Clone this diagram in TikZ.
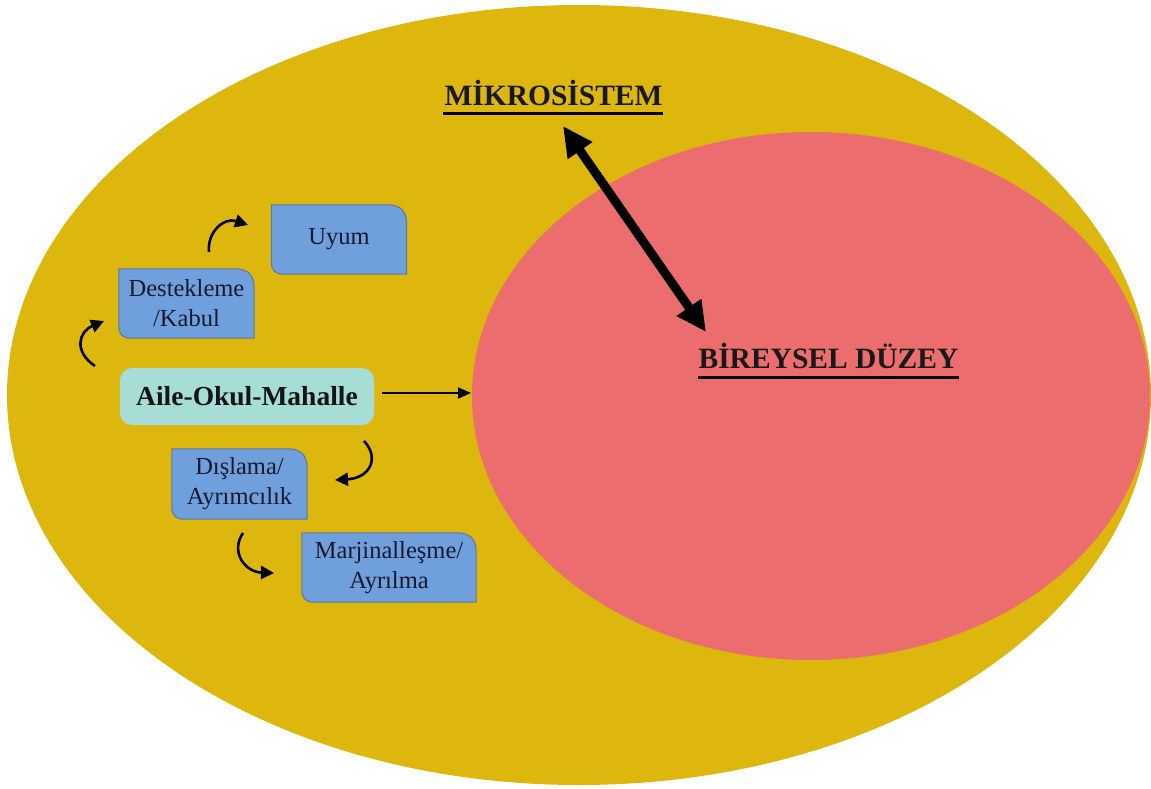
\documentclass[tikz,border=0pt]{standalone}
\usepackage{fontspec}
\setmainfont{Liberation Serif}
\usetikzlibrary{arrows.meta,calc}
\definecolor{outerY}{RGB}{221,183,13}
\definecolor{innerP}{RGB}{235,109,109}
\definecolor{boxB}{RGB}{111,160,221}
\definecolor{boxE}{RGB}{88,120,165}
\definecolor{tealF}{RGB}{166,221,214}
\definecolor{txt}{RGB}{25,25,45}
\pgfdeclarelayer{back}
\pgfdeclarelayer{mid}
\pgfsetlayers{back,mid,main}
\tikzset{
  boxtext/.style={inner sep=0pt, align=center, text=txt, font=\fontsize{24.5}{30}\selectfont},
  boxshape/.style={fill=boxB, draw=boxE, line width=1pt},
  curvarrow/.style={line width=2.6pt, -{Triangle[length=13pt,width=13pt]}},
  ttl/.style={inner sep=0pt, anchor=base, font=\bfseries\fontsize{29.5}{34}\selectfont, text=black!90}
}
\newcommand\mycbox[1]{%
  \begin{pgfonlayer}{mid}
  \draw[boxshape] (#1.north west) -- ($(#1.north east)+(-20,0)$) .. controls ($(#1.north east)+(-6,0)$) and ($(#1.north east)+(0,6)$) .. ($(#1.north east)+(0,20)$)
    -- (#1.south east) -- ($(#1.south west)+(12,0)$) .. controls ($(#1.south west)+(4,0)$) and ($(#1.south west)+(0,-4)$) .. ($(#1.south west)+(0,-12)$) -- cycle;
  \end{pgfonlayer}}
\begin{document}
\begin{tikzpicture}[x=1pt,y=-1pt]
\useasboundingbox (0,0) rectangle (1151,789);
\begin{pgfonlayer}{back}
\fill[outerY] (579,395) ellipse [x radius=572pt, y radius=390pt];
\fill[innerP] (811,396) ellipse [x radius=339pt, y radius=264pt];
\end{pgfonlayer}

% boxes
\node[boxtext, minimum width=135pt, minimum height=69pt] (uyum) at (339,239.5) {Uyum};
\mycbox{uyum}
\node[boxtext, minimum width=135pt, minimum height=69pt] (dest) at (186.5,303.5) {Destekleme\\/Kabul};
\mycbox{dest}
\node[boxtext, minimum width=135pt, minimum height=70pt] (disl) at (239.5,484) {Dışlama/\\Ayrımcılık};
\mycbox{disl}
\node[boxtext, minimum width=174pt, minimum height=69pt] (marj) at (389,567.5) {Marjinalleşme/\\Ayrılma};
\mycbox{marj}
\node[inner sep=0pt, minimum width=254pt, minimum height=57pt, fill=tealF, rounded corners=12pt,
      font=\bfseries\fontsize{27.5}{32}\selectfont, text=black!92] (aile) at (247,396.5) {Aile-Okul-Mahalle};

% titles
\node[ttl] (mikro) at (553.5,106) {MİKROSİSTEM};
\draw[line width=3pt] ($(mikro.base west)+(-1,8)$) -- ($(mikro.base east)+(0,8)$);
\node[ttl] (birey) at (828.5,368) {BİREYSEL DÜZEY};
\draw[line width=3pt] ($(birey.base west)+(0,9)$) -- ($(birey.base east)+(0,9)$);

% connectors
\coordinate (pinkleft) at (471,393);
\draw[line width=2pt, -{Triangle[length=13pt,width=11pt]}] (aile.east |- pinkleft) ++(8,0) coordinate (aileout) -- (pinkleft);
\coordinate (tA) at (563,126);
\coordinate (tB) at (706,332);
\draw[line width=9pt, {Triangle[length=30pt,width=28pt]}-{Triangle[length=30pt,width=28pt]}] (tA) -- (tB);

\coordinate (a1s) at (209,252); \coordinate (a1e) at (248,225);
\draw[curvarrow] (a1s) .. controls (207,232) and (224,217) .. (a1e);
\coordinate (a2s) at (95,366); \coordinate (a2e) at (104,321);
\draw[curvarrow] (a2s) .. controls (74,352) and (78,332) .. (a2e);
\coordinate (a3s) at (364,441); \coordinate (a3e) at (335,480);
\draw[curvarrow] (a3s) .. controls (380,458) and (370,478) .. (a3e);
\coordinate (a4s) at (243,533); \coordinate (a4e) at (274,573);
\draw[curvarrow] (a4s) .. controls (230,552) and (245,572) .. (a4e);
\end{tikzpicture}
\end{document}
